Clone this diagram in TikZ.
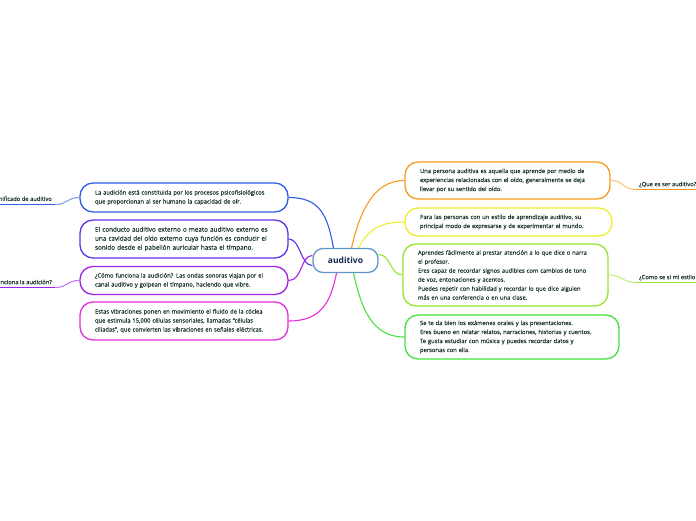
\documentclass[tikz,border=0pt]{standalone}
\usepackage{fontspec}
\setmainfont{Open Sans}
\newfontfamily\mmfont[FakeBold=0.4]{Open Sans}
\usepackage{tikz}
\usetikzlibrary{calc}
\definecolor{mmtext}{RGB}{28,55,45}
\definecolor{mmcenter}{RGB}{95,150,205}
\definecolor{mmnavy}{RGB}{20,40,80}
\definecolor{mmblue}{RGB}{45,95,230}
\definecolor{mmindigo}{RGB}{95,50,232}
\definecolor{mmpurple}{RGB}{160,35,230}
\definecolor{mmmagenta}{RGB}{232,45,220}
\definecolor{mmorange}{RGB}{246,155,30}
\definecolor{mmyellow}{RGB}{238,238,45}
\definecolor{mmlime}{RGB}{150,230,45}
\definecolor{mmgreen}{RGB}{70,225,65}

\begin{document}
\begin{tikzpicture}[x=1pt,y=-1pt,
  topic/.style={draw,line width=1.3pt,rounded corners=13pt,fill=white,text=mmtext,
    font=\mmfont\fontsize{5.8}{9}\selectfont,align=left,inner xsep=15pt,inner ysep=0pt,
    minimum width=#1},
  link/.style={line width=1.1pt},
  underl/.style={line width=1.8pt},
  lbl/.style={text=mmtext,font=\mmfont\fontsize{5.8}{7}\selectfont,inner xsep=3pt,inner ysep=2pt}]
  \clip (0,0) rectangle (696,520);
  % central topic
  \node[draw=mmcenter,line width=1.3pt,rounded corners=10pt,fill=white,text=mmnavy,
    font=\fontsize{8.5}{10}\bfseries,minimum width=65pt,minimum height=24pt] (c) at (345.5,260.5) {auditivo};

  % left side
  \node[topic=208pt,draw=mmblue,minimum height=29pt,text width=178pt] (n1) at (184,197.5)
    {La audición está constituida por los procesos psicofisiológicos\\que proporcionan al ser humano la capacidad de oír.};
  \node[topic=208pt,draw=mmindigo,minimum height=38pt,text width=178pt,font=\mmfont\fontsize{6.35}{9}\selectfont] (n2) at (184,239)
    {El conducto auditivo externo o meato auditivo externo es\\una cavidad del oído externo cuya función es conducir el\\sonido desde el pabellón auricular hasta el tímpano.};
  \node[topic=208pt,draw=mmpurple,minimum height=28pt,text width=178pt] (n3) at (184,280.5)
    {¿Cómo funciona la audición? Las ondas sonoras viajan por el\\canal auditivo y golpean el tímpano, haciendo que vibre.};
  \node[topic=208pt,draw=mmmagenta,minimum height=38pt,text width=178pt] (n4) at (184,321)
    {Estas vibraciones ponen en movimiento el fluido de la cóclea\\que estimula 15,000 células sensoriales, llamadas “células\\ciliadas”, que convierten las vibraciones en señales eléctricas.};

  \node[lbl,anchor=south east] (ls) at (55,204.5) {Significado de auditivo};
  \node[lbl,anchor=south east] (lf) at (55,287.5) {¿Cómo funciona la audición?};

  % right side
  \node[topic=205pt,draw=mmorange,minimum height=37pt,text width=175pt] (n5) at (507.5,180.5)
    {Una persona auditiva es aquella que aprende por medio de\\experiencias relacionadas con el oído, generalmente se deja\\llevar por su sentido del oído.};
  \node[topic=207pt,draw=mmyellow,minimum height=28pt,text width=177pt] (n6) at (508.5,222)
    {Para las personas con un estilo de aprendizaje auditivo, su\\principal modo de expresarse y de experimentar el mundo.};
  \node[topic=205pt,draw=mmlime,minimum height=62pt,text width=175pt] (n7) at (505.5,275)
    {Aprendes fácilmente al prestar atención a lo que dice o narra\\el profesor.\\Eres capaz de recordar signos audibles com cambios de tono\\de voz, entonaciones y acentos.\\Puedes repetir con habilidad y recordar lo que dice alguien\\más en una conferencia o en una clase.};
  \node[topic=214pt,draw=mmgreen,minimum height=44pt,text width=184pt] (n8) at (512,337)
    {Se te da bien los exámenes orales y las presentaciones.\\Eres bueno en relatar relatos, narraciones, historias y cuentos.\\Te gusta estudiar con música y puedes recordar datos y\\personas con ella.};

  \node[lbl,anchor=south west] (lq) at (636,189.5) {¿Que es ser auditivo?};
  \node[lbl,anchor=south west] (le) at (636,282.5) {¿Como se si mi estilo es auditivo?};

  % branches from the centre
  \draw[link,mmblue] ([xshift=-12pt]c.north) .. controls +(-6,-32) and +(32,0) .. (n1.east);
  \draw[link,mmindigo] ([yshift=-5pt]c.west) .. controls +(-12,0) and +(12,0) .. (n2.east);
  \draw[link,mmpurple] ([yshift=5pt]c.west) .. controls +(-12,0) and +(14,0) .. (n3.east);
  \draw[link,mmmagenta] ([xshift=-9pt]c.south) .. controls +(-6,30) and +(32,0) .. (n4.east);
  \draw[link,mmorange] ([xshift=6pt]c.north) .. controls +(8,-34) and +(-32,0) .. (n5.west);
  \draw[link,mmyellow] ([xshift=13pt]c.north) .. controls +(10,-18) and +(-25,0) .. (n6.west);
  \draw[link,mmlime] ([yshift=6pt]c.east) .. controls +(12,0) and +(-12,0) .. (n7.west);
  \draw[link,mmgreen] ([xshift=8pt]c.south) .. controls +(8,36) and +(-32,0) .. (n8.west);

  % floating labels
  \draw[link,mmblue!60] (n1.west) .. controls +(-13,0) and +(13,0) .. (ls.south east);
  \draw[underl,mmblue] (ls.south east) -- (ls.south west);
  \draw[link,mmpurple!60] (n3.west) .. controls +(-13,0) and +(13,0) .. (lf.south east);
  \draw[underl,mmpurple] (lf.south east) -- (lf.south west);
  \draw[link,mmorange!60] (n5.east) .. controls +(13,0) and +(-13,0) .. (lq.south west);
  \draw[underl,mmorange] (lq.south west) -- (lq.south east);
  \draw[link,mmlime!60] (n7.east) .. controls +(14,0) and +(-14,0) .. (le.south west);
  \draw[underl,mmlime] (le.south west) -- (le.south east);
\end{tikzpicture}
\end{document}
